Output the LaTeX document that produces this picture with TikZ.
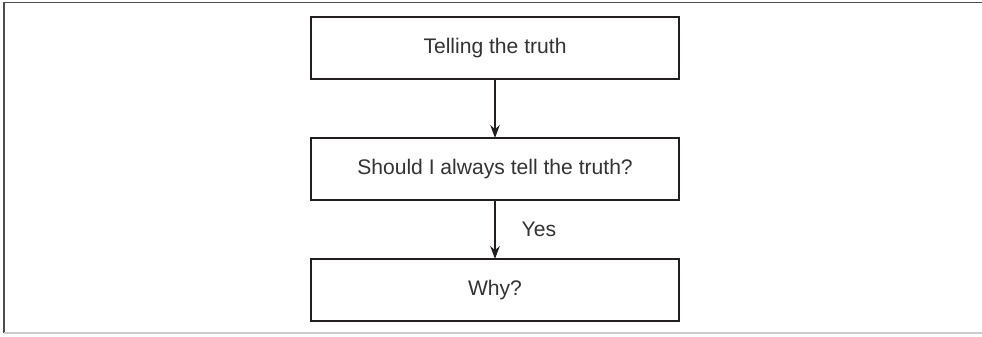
\documentclass[tikz,border=0pt]{standalone}
\usepackage{fontspec}
\setmainfont{Liberation Sans}
\usepackage{tikz}
\usetikzlibrary{positioning}
\usetikzlibrary{arrows.meta}
\definecolor{ink}{HTML}{231F20}
\definecolor{txt}{HTML}{333333}
\tikzstyle{box}=[draw=ink, line width=1.4pt, outer sep=0pt, minimum width=7.36cm, minimum height=1.24cm, inner sep=0pt, text=txt, font=\fontsize{12}{14}\selectfont]
\tikzstyle{flow}=[draw=ink, line width=0.9pt, -{Stealth[length=0.26cm,width=0.19cm]}]

\begin{document}
\begin{tikzpicture}
\useasboundingbox (0,0) rectangle (19.64,-6.72);
% frame
\draw[gray!60!black, line width=0.9pt] (0.08,-6.66) -- (0.08,-0.05) -- (19.64,-0.05);
\draw[gray!40, line width=0.9pt] (0.08,-6.66) -- (19.64,-6.66);
% boxes
\node[box] (truth) at (9.9,-0.96) {Telling the truth};
\node[box, below=1.18cm of truth] (should) {Should I always tell the truth?};
\node[box, below=1.18cm of should] (why) {Why?};
% arrows
\draw[flow] (truth) -- (should);
\draw[flow] (should) -- node[right=0.4cm, text=txt, font=\fontsize{12}{14}\selectfont] {Yes} (why);
\end{tikzpicture}
\end{document}
